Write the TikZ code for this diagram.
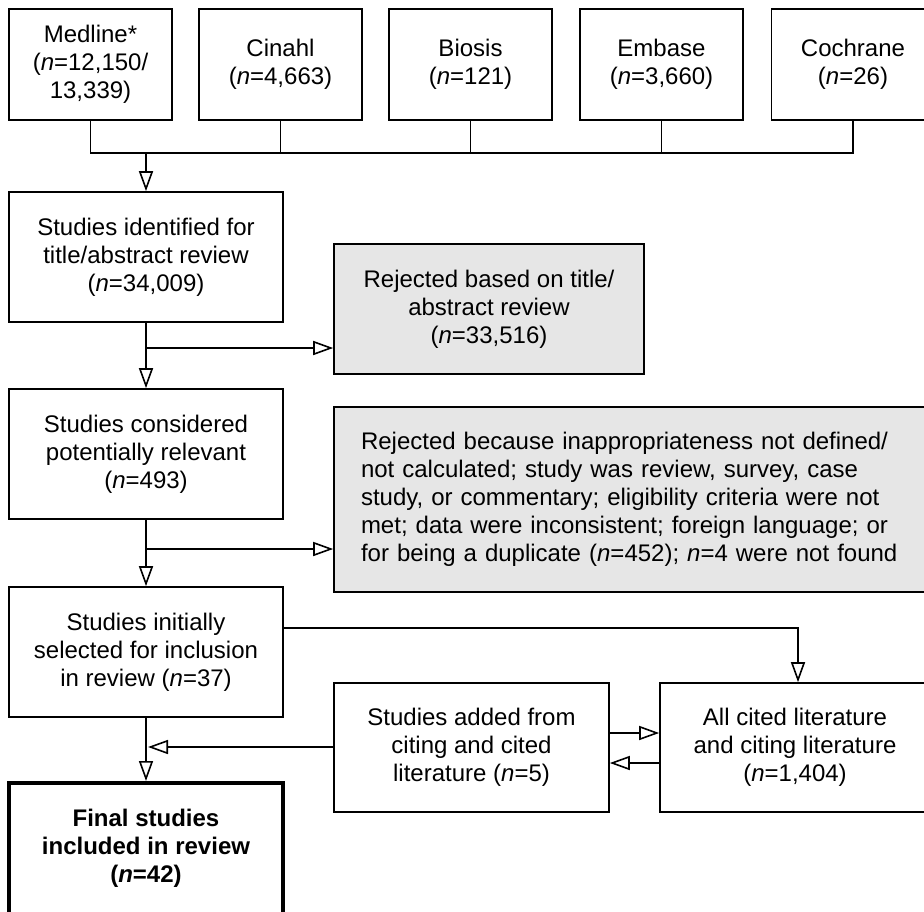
\documentclass[tikz,border=0pt]{standalone}
\usepackage{fontspec}
\setmainfont{Liberation Sans}
\usetikzlibrary{arrows.meta}
\definecolor{boxgray}{HTML}{E6E6E6}
\begin{document}
\begin{tikzpicture}[x=1pt,y=-1pt,
  box/.style={draw, line width=1.6pt, inner sep=0pt, align=center, font=\fontsize{24}{28}\selectfont},
  src/.style={box, minimum width=163pt, minimum height=111pt},
  mainbox/.style={box, minimum width=274pt, minimum height=130pt},
  rej/.style={box, fill=boxgray},
  ln/.style={line width=1.6pt},
  arr/.style={line width=1.6pt, -{Triangle[length=20pt,width=14pt,fill=white]}}]
\useasboundingbox (0,0) rectangle (924,912);
\clip (0,0) rectangle (924,912);
% sources
\node[src] (medline) at (90.5,64.5) {Medline*\\(\textit{n}=12,150/\\13,339)};
\node[src] (cinahl) at (280.5,64.5) {Cinahl\\(\textit{n}=4,663)};
\node[src] (biosis) at (470.5,64.5) {Biosis\\(\textit{n}=121)};
\node[src] (embase) at (661.5,64.5) {Embase\\(\textit{n}=3,660)};
\node[src] (cochrane) at (853,64.5) {Cochrane\\(\textit{n}=26)};
% main column
\node[mainbox] (ident) at (146,257) {Studies identified for\\title/abstract review\\(\textit{n}=34,009)};
\node[mainbox] (consid) at (146,454) {Studies considered\\potentially relevant\\(\textit{n}=493)};
\node[mainbox] (init) at (146,652) {Studies initially\\selected for inclusion\\in review (\textit{n}=37)};
\node[mainbox, line width=4pt, minimum height=131pt, font=\fontsize{24}{28}\selectfont\bfseries] (final) at (146,848.5) {Final studies\\included in review\\(\textit{n}=42)};
% rejected
\node[rej, minimum width=310pt, minimum height=130pt] (rej1) at (489,309) {Rejected based on title/\\abstract review\\(\textit{n}=33,516)};
\node[rej, minimum width=606pt, minimum height=185pt, text width=552pt, align=left] (rej2) at (637,499.5) {Rejected because inappropriateness not defined/\\not calculated; study was review, survey, case\\study, or commentary; eligibility criteria were not\\met; data were inconsistent; foreign language; or\\for being a duplicate (\textit{n}=452); \textit{n}=4 were not found};
% citing
\node[box, minimum width=275pt, minimum height=129pt] (added) at (471.5,747.5) {Studies added from\\citing and cited\\literature (\textit{n}=5)};
\node[box, minimum width=270pt, minimum height=129pt] (allcited) at (795,747.5) {All cited literature\\and citing literature\\(\textit{n}=1,404)};
% source connectors
\coordinate (jtop) at (146,153);
\draw[ln] (medline.south) -- (medline.south |- jtop) -- (cochrane.south |- jtop) -- (cochrane.south);
\draw[ln] (cinahl.south) -- (cinahl.south |- jtop);
\draw[ln] (biosis.south) -- (biosis.south |- jtop);
\draw[ln] (embase.south) -- (embase.south |- jtop);
\draw[arr] (jtop) -- (ident.north);
% main flow
\coordinate (b1) at (146,348);
\coordinate (b2) at (146,549);
\draw[arr] (ident.south) -- (consid.north);
\draw[arr] (b1) -- (b1 -| rej1.west);
\draw[arr] (consid.south) -- (init.north);
\draw[arr] (b2) -- (b2 -| rej2.west);
\draw[arr] (init.south) -- (final.north);
% to cited literature
\coordinate (t1) at (798,628);
\draw[arr] (init.east |- t1) -- (t1) -- (t1 |- allcited.north);
\coordinate (a1) at (600,733);
\coordinate (a2) at (600,763);
\draw[arr] (added.east |- a1) -- (allcited.west |- a1);
\draw[arr] (allcited.west |- a2) -- (added.east |- a2);
\coordinate (m1) at (148,747);
\draw[arr] (added.west |- m1) -- (m1);
\end{tikzpicture}
\end{document}
